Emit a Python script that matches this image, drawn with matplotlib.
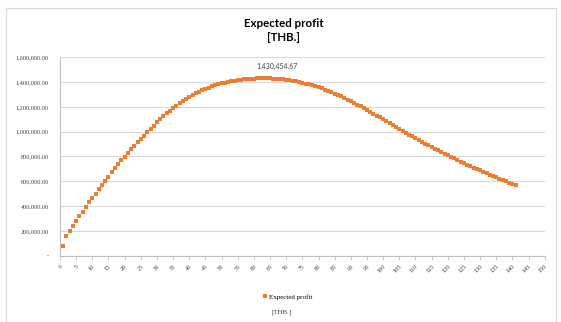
import matplotlib
matplotlib.use('Agg')
import matplotlib.pyplot as plt
from matplotlib.patches import Rectangle
from matplotlib.ticker import FuncFormatter, MultipleLocator

TITLE = 'Expected profit\n[THB.]'
SERIES_NAME = 'Expected profit'
UNIT_NAME = '[THB.]'
PEAK_LABEL = '1,430,454.67'

QUANTITY = list(range(1, 142))

EXPECTED_PROFIT = [
    80000, 156000, 201000, 238000, 279000, 317000, 355000, 392000, 429000, 465000,
    500000, 534000, 568000, 603000, 638000, 672000, 705000, 737000, 768000, 798000,
    828000, 857000, 885000, 913000, 941000, 968000, 995000, 1022000, 1049000, 1075000,
    1100000, 1124000, 1147000, 1169000, 1190000, 1210000, 1229000, 1247000, 1264000, 1280000,
    1295000, 1309000, 1322000, 1334000, 1345000, 1355500, 1365500, 1374500, 1382500, 1390000,
    1396500, 1402300, 1407500, 1412100, 1416100, 1419600, 1422600, 1425100, 1427100, 1428600,
    1429600, 1430200, 1430454.67, 1430300, 1429800, 1428800, 1427300, 1425300, 1422700, 1419500,
    1415700, 1411300, 1406300, 1400800, 1394800, 1388300, 1381300, 1373800, 1365900, 1357600,
    1348800, 1339400, 1329400, 1318800, 1307700, 1296100, 1284100, 1271700, 1258900, 1245800,
    1232400, 1218700, 1204700, 1190400, 1175800, 1160900, 1145800, 1130500, 1115100, 1099600,
    1084100, 1068600, 1053100, 1037700, 1022400, 1007200, 992100, 977100, 962200, 947500,
    933000, 918700, 904600, 890700, 877000, 863400, 849900, 836500, 823200, 810000,
    797000, 784200, 771600, 759200, 747000, 734900, 722900, 711000, 699200, 687500,
    676000, 664600, 653400, 642400, 631500, 620700, 610000, 599400, 588900, 578500,
    568200,
]

ORANGE = '#ED7D31'
GRID = '#D9D9D9'
AXIS = '#BFBFBF'
TEXT = '#404040'
SERIF = 'Liberation Serif'
SANS = 'Lato'

'''Подписи оси Y в формате Excel'''


def money(value, _pos):
    if value == 0:
        return '-'
    return '{:,.2f}'.format(value)


def main():
    fig = plt.figure(figsize=(5.61, 3.22), dpi=100)
    ax = fig.add_axes([0.107, 0.206, 0.864, 0.616])

    fig.patches.append(Rectangle((6 / 561, -0.02), 550 / 561, 1 - 8 / 322 + 0.02,
                                 transform=fig.transFigure, fill=False,
                                 edgecolor=GRID, linewidth=0.8))

    ax.plot(QUANTITY, EXPECTED_PROFIT, linestyle='none', marker='s',
            markersize=2.3, markeredgewidth=0, color=ORANGE,
            label=SERIES_NAME, zorder=3)

    peak = EXPECTED_PROFIT.index(max(EXPECTED_PROFIT))
    ax.annotate(PEAK_LABEL, (QUANTITY[peak], EXPECTED_PROFIT[peak]),
                xytext=(10, 6), textcoords='offset points', ha='center', va='bottom',
                fontsize=5, family=SANS, color=TEXT)

    ax.set_xlim(0, 150)
    ax.set_ylim(0, 1600000)
    ax.xaxis.set_major_locator(MultipleLocator(5))
    ax.yaxis.set_major_locator(MultipleLocator(200000))
    ax.yaxis.set_major_formatter(FuncFormatter(money))

    ax.grid(axis='y', color=GRID, linewidth=0.8)
    ax.set_axisbelow(True)
    for side in ['top', 'right']:
        ax.spines[side].set_visible(False)
    for side in ['left', 'bottom']:
        ax.spines[side].set_color(AXIS)
        ax.spines[side].set_linewidth(0.8)

    ax.tick_params(axis='y', length=0, pad=8, labelsize=4.5, labelcolor=TEXT)
    ax.tick_params(axis='x', length=3, width=0.6, color=AXIS, pad=3,
                   labelsize=4.5, labelcolor=TEXT)
    for label in ax.get_yticklabels():
        label.set_family(SERIF)
    for label in ax.get_xticklabels():
        label.set_family(SERIF)
        label.set_rotation(45)
        label.set_ha('right')
        label.set_rotation_mode('anchor')

    fig.text(0.506, 0.905, TITLE, ha='center', va='center', fontsize=8.3,
             fontweight='bold', family=SANS, color='black', linespacing=1.25)

    fig.legend(loc='center', bbox_to_anchor=(0.512, 0.078), frameon=False,
               prop={'family': SERIF, 'size': 5}, handletextpad=0.3,
               handlelength=0.8, markerscale=1.0)
    fig.text(0.502, 0.029, UNIT_NAME, ha='center', va='center', fontsize=5,
             family=SERIF, color=TEXT)

    fig.savefig('out.png', dpi=100)


if __name__ == '__main__':
    main()
